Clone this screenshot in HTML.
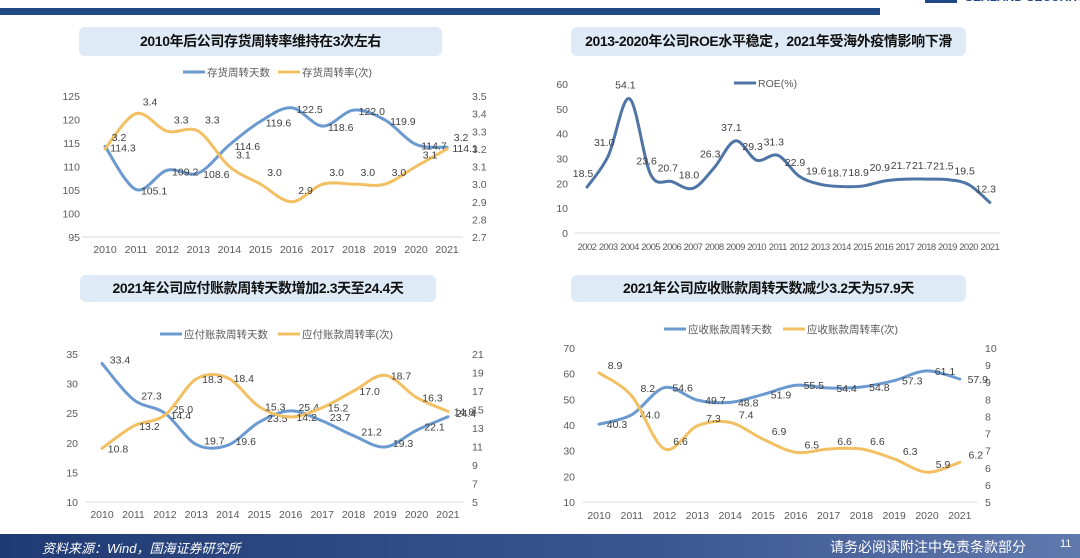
<!DOCTYPE html>
<html><head><meta charset="utf-8">
<style>
html,body{margin:0;padding:0;background:#fff;}
#root{position:relative;width:1080px;height:558px;overflow:hidden;background:#fff;font-family:"Liberation Sans","Noto Sans CJK SC",sans-serif;}
.title{position:absolute;background:#deeaf6;border-radius:6px;font-weight:bold;font-size:14px;letter-spacing:-0.4px;white-space:nowrap;color:#111;text-align:center;line-height:29px;}
</style></head><body>
<div id="root">
  <div style="position:absolute;left:0;top:8px;width:880px;height:7px;background:#1f4985;"></div>
  <div style="position:absolute;left:965px;top:-10px;font-size:12px;font-weight:bold;color:#1f4985;white-space:nowrap;">SEALAND SECURITIES</div>
  <div style="position:absolute;left:925px;top:0;width:32px;height:3px;background:#1f4985;"></div>

  <div class="title" style="left:79px;top:27px;width:363px;height:29px;">2010年后公司存货周转率维持在3次左右</div>
  <div class="title" style="left:571px;top:27px;width:395px;height:29px;">2013-2020年公司ROE水平稳定，2021年受海外疫情影响下滑</div>
  <div class="title" style="left:80px;top:275px;width:356px;height:27px;line-height:27px;">2021年公司应付账款周转天数增加2.3天至24.4天</div>
  <div class="title" style="left:571px;top:275px;width:395px;height:27px;line-height:27px;">2021年公司应收账款周转天数减少3.2天为57.9天</div>

  <svg id="svg" width="1080" height="558" style="position:absolute;left:0;top:0;" xmlns="http://www.w3.org/2000/svg"></svg>

  <div style="position:absolute;left:0;top:534px;width:1080px;height:24px;background:linear-gradient(90deg,#203b74,#3b5590 60%,#6079ad);"></div>
  <div style="position:absolute;left:42px;top:538px;font-size:13px;font-style:italic;color:#fff;">资料来源：Wind，国海证券研究所</div>
  <div style="position:absolute;left:830px;top:537px;font-size:14px;color:#fff;">请务必阅读附注中免责条款部分</div>
  <div style="position:absolute;left:1060px;top:538px;font-size:11px;color:#fff;">11</div>
</div>
<script>
const c1Years=["2010","2011","2012","2013","2014","2015","2016","2017","2018","2019","2020","2021"];
const c1Days=[114.3,105.1,109.2,108.6,114.6,119.6,122.5,118.6,122.0,119.9,114.7,114.1];
const c1Rate=[3.2,3.4,3.3,3.3,3.1,3.0,2.9,3.0,3.0,3.0,3.1,3.2];
const c1LeftTicks=["95","100","105","110","115","120","125"];
const c1RightTicks=["2.7","2.8","2.9","3.0","3.1","3.2","3.3","3.4","3.5"];

const c2Years=["2002","2003","2004","2005","2006","2007","2008","2009","2010","2011","2012","2013","2014","2015","2016","2017","2018","2019","2020","2021"];
const c2Roe=[18.5,31.0,54.1,23.6,20.7,18.0,26.3,37.1,29.3,31.3,22.9,19.6,18.7,18.9,20.9,21.7,21.7,21.5,19.5,12.3];
const c2Ticks=["0","10","20","30","40","50","60"];

const c3Years=["2010","2011","2012","2013","2014","2015","2016","2017","2018","2019","2020","2021"];
const c3Days=[33.4,27.3,25.0,19.7,19.6,23.5,25.4,23.7,21.2,19.3,22.1,24.4];
const c3Rate=[10.8,13.2,14.4,18.3,18.4,15.3,14.2,15.2,17.0,18.7,16.3,14.8];
const c3LeftTicks=["10","15","20","25","30","35"];
const c3RightTicks=["5","7","9","11","13","15","17","19","21"];

const c4Years=["2010","2011","2012","2013","2014","2015","2016","2017","2018","2019","2020","2021"];
const c4Days=[40.3,44.0,54.6,49.7,48.8,51.9,55.5,54.4,54.8,57.3,61.1,57.9];
const c4Rate=[8.9,8.2,6.6,7.3,7.4,6.9,6.5,6.6,6.6,6.3,5.9,6.2];
const c4LeftTicks=["10","20","30","40","50","60","70"];
const c4RightTicks=["5","6","6","7","7","8","8","9","9","10"];

const NS="http://www.w3.org/2000/svg";
const svg=document.getElementById('svg');
const BLUE="#6b9ad0", ORANGE="#f2c062", ROEC="#4f74a6";
function el(tag,attrs,parent){const e=document.createElementNS(NS,tag);for(const k in attrs)e.setAttribute(k,attrs[k]);(parent||svg).appendChild(e);return e;}
function txt(x,y,s,anchor,size,fill,parent){const t=el('text',{x:x,y:y,'text-anchor':anchor,'font-size':size,fill:fill,'font-family':'Liberation Sans, Noto Sans CJK SC, sans-serif'},parent);t.textContent=s;return t;}
function smooth(pts){let d="M"+pts[0][0]+","+pts[0][1];for(let i=0;i<pts.length-1;i++){const p0=pts[i-1]||pts[i],p1=pts[i],p2=pts[i+1],p3=pts[i+2]||p2;const t=6;d+=" C"+(p1[0]+(p2[0]-p0[0])/t)+","+(p1[1]+(p2[1]-p0[1])/t)+" "+(p2[0]-(p3[0]-p1[0])/t)+","+(p2[1]-(p3[1]-p1[1])/t)+" "+p2[0]+","+p2[1];}return d;}

function chart(cfg){
  const g=el('g',{});
  
  
  const xs=i=>cfg.x0+i*cfg.dx;
  const yl=v=>cfg.yBot-(v-cfg.lmin)/(cfg.lmax-cfg.lmin)*(cfg.yBot-cfg.yTop);
  const yr=v=>cfg.yBot-(v-cfg.rmin)/(cfg.rmax-cfg.rmin)*(cfg.yBot-cfg.yTop);
  const base=el('line',{x1:cfg.bx0,x2:cfg.bx1,y1:cfg.yBot,y2:cfg.yBot,stroke:'#d9d9d9','stroke-width':1},g);
  
  
  cfg.lticks.forEach((s,i)=>{const y=cfg.yBot-i*(cfg.yBot-cfg.yTop)/(cfg.lticks.length-1);const t=txt(cfg.lx,y+4,s,'end',10.5,'#595959',g);});
  if(cfg.rticks)cfg.rticks.forEach((s,i)=>{const y=cfg.yBot-i*(cfg.yBot-cfg.yTop)/(cfg.rticks.length-1);const t=txt(cfg.rx,y+4,s,'start',10.5,'#595959',g);});
  cfg.years.forEach((s,i)=>{const t=txt(xs(i),cfg.xly,s,'middle',cfg.xfs||10.5,'#595959',g);if(cfg.xfs)t.setAttribute('letter-spacing','-0.6');});
  cfg.series.forEach(se=>{
    const sc=se.axis==='r'?yr:yl;
    const pts=se.data.map((v,i)=>[xs(i),sc(v)]);
    const p=el('path',{d:smooth(pts),fill:'none',stroke:se.color,'stroke-width':3,'stroke-linecap':'round'},g);
    
    
    se.data.forEach((v,i)=>{const t=txt(pts[i][0]+se.ldx,pts[i][1]+se.ldy,v.toFixed(1),'middle',10.5,'#404040',g);});
    const lx=se.legx;
    const ll=el('line',{x1:lx,x2:lx+22,y1:cfg.legy,y2:cfg.legy,stroke:se.color,'stroke-width':3},g);
    
    
    const lt=txt(lx+24,cfg.legy+4,se.label,'start',10.5,'#595959',g);
    
    
  });
}

chart({name:'inventory-turnover-chart',x0:105,dx:31.1,yTop:96,yBot:237,lmin:95,lmax:125,rmin:2.7,rmax:3.5,bx0:82,bx1:463,lx:80,rx:472,xly:253,legy:72,
  years:c1Years,lticks:c1LeftTicks,rticks:c1RightTicks,
  series:[{id:'inventory-days',data:c1Days,axis:'l',color:BLUE,label:'存货周转天数',legx:183,ldx:18,ldy:5},
          {id:'inventory-rate',data:c1Rate,axis:'r',color:ORANGE,label:'存货周转率(次)',legx:278,ldx:14,ldy:-8}]});
chart({name:'roe-chart',x0:587,dx:21.2,yTop:84,yBot:233,lmin:0,lmax:60,bx0:575,bx1:1000,lx:568,xly:250,xfs:9.5,legy:83,
  years:c2Years,lticks:c2Ticks,
  series:[{id:'roe',data:c2Roe,axis:'l',color:ROEC,label:'ROE(%)',legx:734,ldx:-4,ldy:-10}]});
chart({name:'payables-turnover-chart',x0:102,dx:31.45,yTop:354,yBot:502,lmin:10,lmax:35,rmin:5,rmax:21,bx0:86,bx1:464,lx:78,rx:472,xly:518,legy:334,
  years:c3Years,lticks:c3LeftTicks,rticks:c3RightTicks,
  series:[{id:'payables-days',data:c3Days,axis:'l',color:BLUE,label:'应付账款周转天数',legx:160,ldx:18,ldy:0},
          {id:'payables-rate',data:c3Rate,axis:'r',color:ORANGE,label:'应付账款周转率(次)',legx:278,ldx:16,ldy:4}]});
chart({name:'receivables-turnover-chart',x0:599,dx:32.8,yTop:348,yBot:502,lmin:10,lmax:70,rmin:5,rmax:9.65,bx0:583,bx1:977,lx:575,rx:985,xly:519,legy:329,
  years:c4Years,lticks:c4LeftTicks,rticks:c4RightTicks,
  series:[{id:'receivables-days',data:c4Days,axis:'l',color:BLUE,label:'应收账款周转天数',legx:664,ldx:18,ldy:4},
          {id:'receivables-rate',data:c4Rate,axis:'r',color:ORANGE,label:'应收账款周转率(次)',legx:783,ldx:16,ldy:-4}]});
</script>
</body></html>
